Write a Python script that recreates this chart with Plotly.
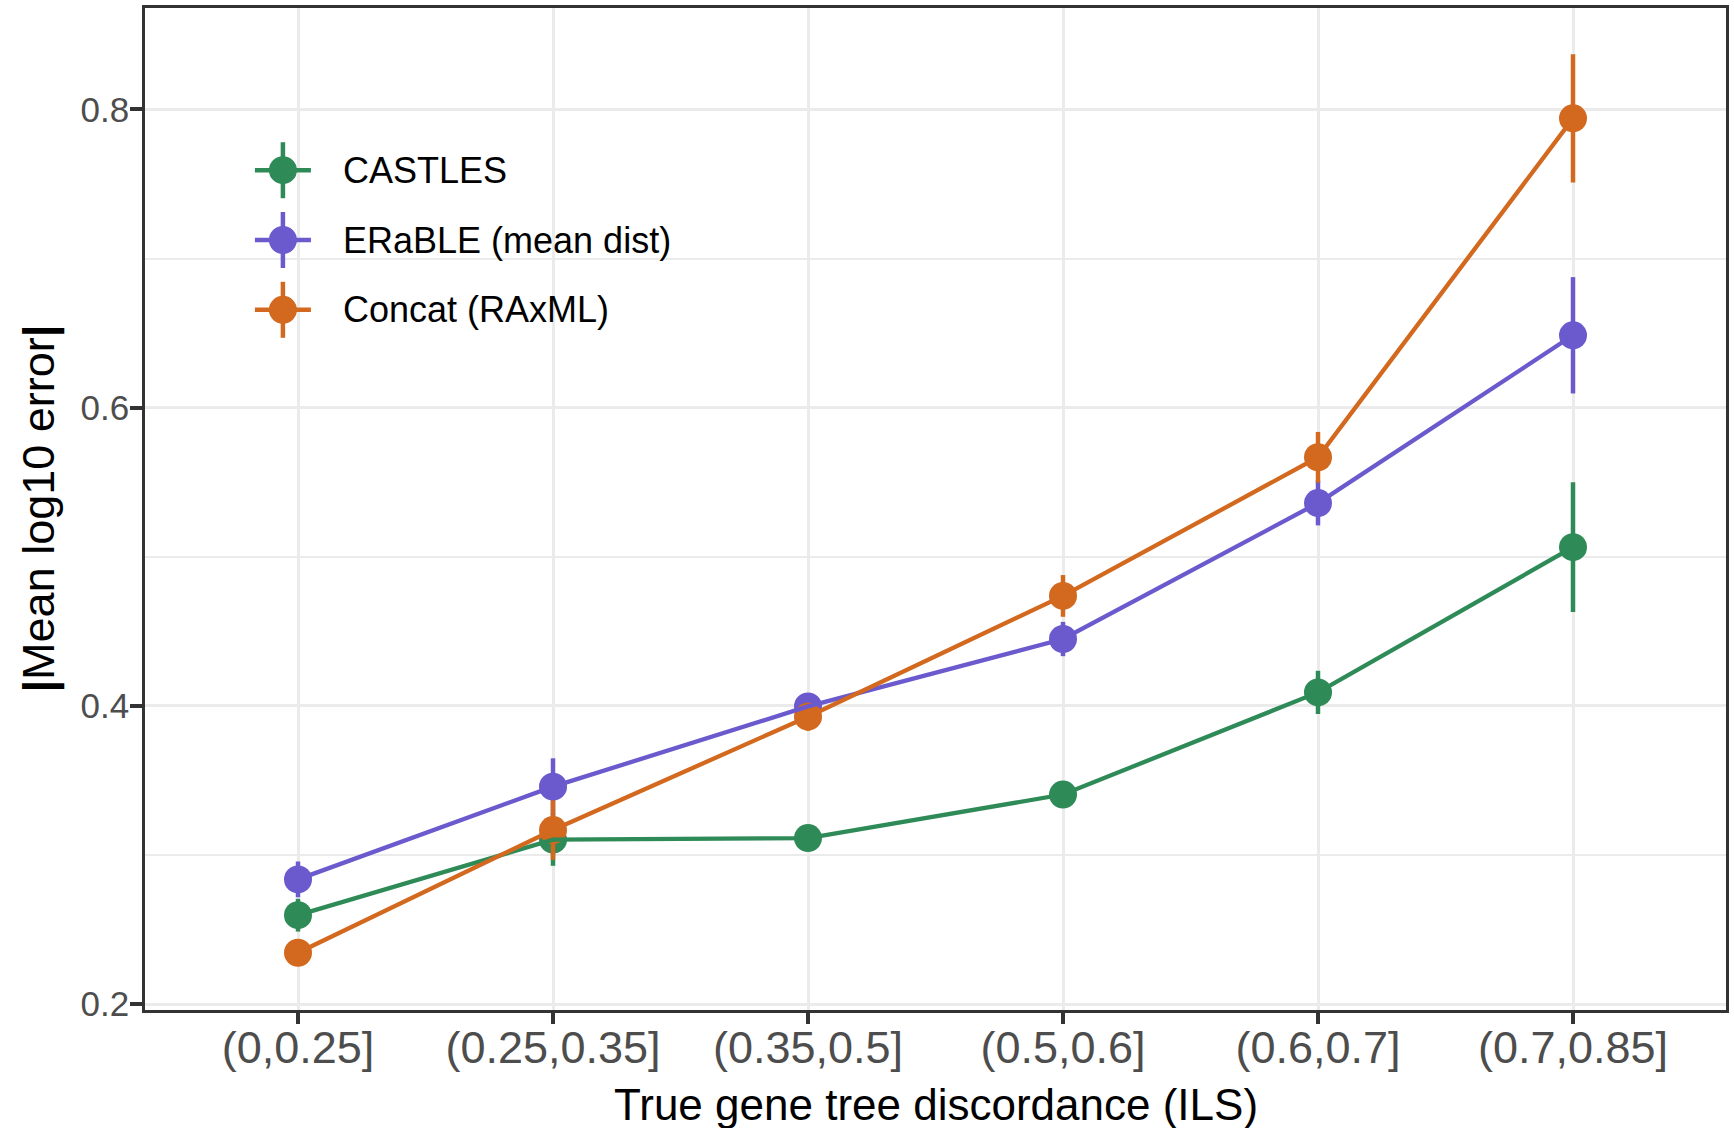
import plotly.graph_objects as go

# ILS bins on the x axis
categories = ["(0,0.25]", "(0.25,0.35]", "(0.35,0.5]", "(0.5,0.6]", "(0.6,0.7]", "(0.7,0.85]"]

# mean |log10 error| per method, with error-bar half-widths
castles = [0.2596, 0.3102, 0.3113, 0.3405, 0.4090, 0.5064]
castles_err = [0.011, 0.0175, 0.004, 0.005, 0.0145, 0.0435]

erable = [0.2836, 0.3458, 0.3996, 0.4448, 0.5360, 0.6485]
erable_err = [0.012, 0.019, 0.006, 0.0115, 0.015, 0.039]

concat = [0.2344, 0.3167, 0.3927, 0.4737, 0.5667, 0.7940]
concat_err = [0.005, 0.020, 0.0094, 0.014, 0.017, 0.043]

series_names = ["CASTLES", "ERaBLE (mean dist)", "Concat (RAxML)"]
colors = ["#2E8B57", "#6A5ACD", "#D2691E"]
values = [castles, erable, concat]
errors = [castles_err, erable_err, concat_err]

FONT = "Liberation Sans, Arial, Helvetica, sans-serif"
W, H = 1734, 1128
ML, MR, MT, MB = 145, 7, 5, 118
XR = [-0.6, len(categories) - 0.4]
YR = [0.196, 0.868]

fig = go.Figure()
xs = list(range(len(categories)))

# points with error bars
for name, col, v, e in zip(series_names, colors, values, errors):
    fig.add_trace(go.Scatter(
        x=xs, y=v, mode="markers", name=name, showlegend=False,
        marker=dict(size=28, color=col, line=dict(width=0)),
        error_y=dict(type="data", array=e, symmetric=True, color=col,
                     thickness=4.5, width=0),
    ))
# connecting lines, drawn over the points
for name, col, v in zip(series_names, colors, values):
    fig.add_trace(go.Scatter(
        x=xs, y=v, mode="lines", showlegend=False, hoverinfo="skip",
        line=dict(color=col, width=4.3),
    ))

grid = "#EBEBEB"
fig.update_xaxes(
    range=XR,
    tickmode="array", tickvals=xs, ticktext=categories,
    showgrid=True, gridcolor=grid, gridwidth=3.4,
    zeroline=False,
    showline=True, mirror=True, linecolor="#333333", linewidth=2.5,
    ticks="outside", ticklen=11, tickwidth=4, tickcolor="#333333",
    ticklabelstandoff=-15,
    tickfont=dict(family=FONT, size=45, color="#4D4D4D"),
)
fig.update_yaxes(
    range=YR,
    tickmode="array", tickvals=[0.2, 0.4, 0.6, 0.8], ticktext=["0.2", "0.4", "0.6", "0.8"],
    showgrid=True, gridcolor=grid, gridwidth=3.4,
    minor=dict(tickmode="array", tickvals=[0.3, 0.5, 0.7], showgrid=True,
               gridcolor=grid, gridwidth=1.8, ticks=""),
    zeroline=False,
    showline=True, mirror=True, linecolor="#333333", linewidth=2.5,
    ticks="outside", ticklen=12, tickwidth=4, tickcolor="#333333",
    ticklabelstandoff=-6,
    tickfont=dict(family=FONT, size=35, color="#4D4D4D"),
)

pw = W - ML - MR
ph = H - MT - MB


# pixel position -> axis units, used for placing the legend panel
def xd(px):
    return XR[0] + (px - ML) / pw * (XR[1] - XR[0])


def yd(py):
    return YR[0] + (H - MB - py) / ph * (YR[1] - YR[0])


shapes = []
annotations = []

# legend panel: white box that hides the grid under it
shapes.append(dict(type="rect", xref="x", yref="y",
                   x0=xd(248), x1=xd(673), y0=yd(343), y1=yd(68),
                   fillcolor="white", line=dict(width=0), layer="below"))

key_x = xd(283)
key_ys = [167.7, 237.7, 307.7]
for name, col, ky in zip(series_names, colors, key_ys):
    yc = yd(ky)
    shapes.append(dict(type="line", xref="x", yref="y",
                       xsizemode="pixel", xanchor=key_x, x0=-28, x1=28,
                       y0=yc, y1=yc, line=dict(color=col, width=4.5)))
    shapes.append(dict(type="line", xref="x", yref="y",
                       ysizemode="pixel", yanchor=yc, y0=-28, y1=28,
                       x0=key_x, x1=key_x, line=dict(color=col, width=4.5)))
    shapes.append(dict(type="circle", xref="x", yref="y",
                       xsizemode="pixel", ysizemode="pixel",
                       xanchor=key_x, yanchor=yc, x0=-14, x1=14, y0=-14, y1=14,
                       fillcolor=col, line=dict(width=0)))
    annotations.append(dict(text=name, xref="x", yref="y",
                            x=xd(341), y=yc, xanchor="left", yanchor="middle",
                            showarrow=False,
                            font=dict(family=FONT, size=36, color="black")))

# axis titles
annotations.append(dict(text="True gene tree discordance (ILS)",
                        xref="paper", yref="paper", x=0.5, y=0,
                        xanchor="center", yanchor="middle", yshift=-(1104 - (H - MB)),
                        showarrow=False,
                        font=dict(family=FONT, size=44, color="black")))
annotations.append(dict(text="<b>|</b>Mean log10 error<b>|</b>",
                        xref="paper", yref="paper", x=0, y=(H - MB - 507) / ph,
                        xanchor="center", yanchor="middle", xshift=39 - ML,
                        textangle=-90, showarrow=False,
                        font=dict(family=FONT, size=45, color="black")))

fig.update_layout(
    width=W, height=H,
    margin=dict(l=ML, r=MR, t=MT, b=MB),
    paper_bgcolor="white", plot_bgcolor="white",
    shapes=shapes, annotations=annotations,
    showlegend=False,
)

fig.write_html("out.html")
